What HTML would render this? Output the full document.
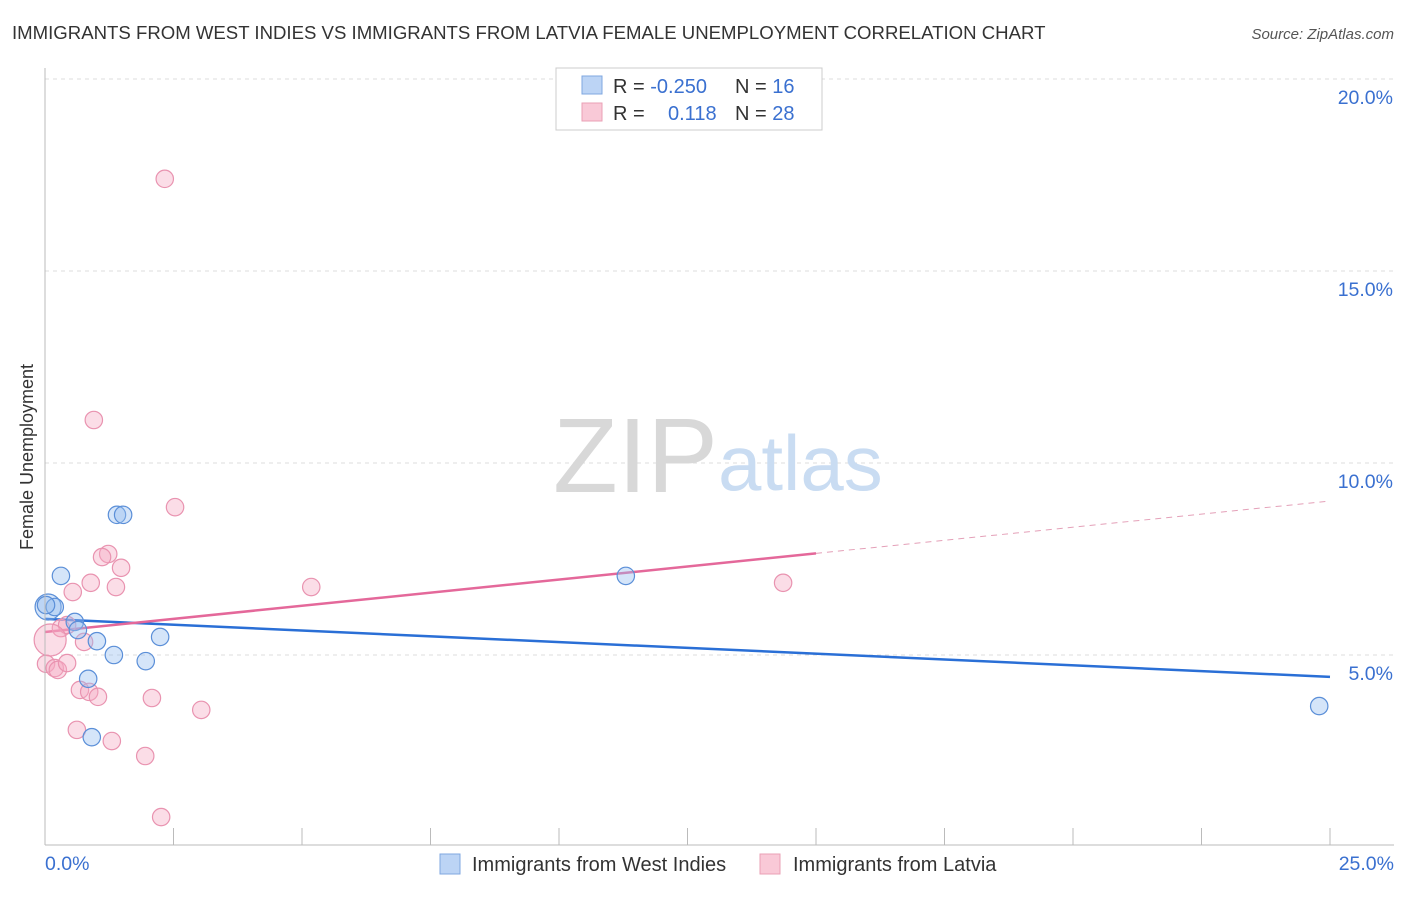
<!DOCTYPE html>
<html><head><meta charset="utf-8"><style>
body{margin:0;background:#fff;font-family:"Liberation Sans",sans-serif;}
svg text{font-family:"Liberation Sans",sans-serif;}
</style></head><body>
<svg width="1406" height="892">
<text x="12" y="39" font-size="18.6" fill="#333">IMMIGRANTS FROM WEST INDIES VS IMMIGRANTS FROM LATVIA FEMALE UNEMPLOYMENT CORRELATION CHART</text>
<text x="1394" y="39" font-size="15" fill="#555" font-style="italic" text-anchor="end">Source: ZipAtlas.com</text>
<text x="33" y="457" font-size="18" fill="#333" text-anchor="middle" transform="rotate(-90 33 457)">Female Unemployment</text>
<g id="grid"></g>
<text x="553" y="492" font-size="106" fill="#d8d8d8" font-family="Liberation Serif">ZIP</text>
<text x="718" y="490" font-size="78" fill="#c9dcf2">atlas</text>
<g id="lines"></g>
<g id="points"></g>
<line x1="45" y1="68" x2="45" y2="845" stroke="#bbb"/>
<line x1="45" y1="845" x2="1394" y2="845" stroke="#bbb"/>
<text x="45" y="870" font-size="19.5" fill="#3a70d0">0.0%</text>
<text x="1394" y="870" font-size="19.5" fill="#3a70d0" text-anchor="end">25.0%</text>
<g>
<rect x="556" y="68" width="266" height="62" fill="#fff" stroke="#ccc"/>
<rect x="582" y="76" width="20" height="18" fill="#bcd4f5" stroke="#7fa7e0"/>
<rect x="582" y="103" width="20" height="18" fill="#f9c9d7" stroke="#eaa0b6"/>
<text x="613" y="93" font-size="20" fill="#333">R = <tspan fill="#3a70d0">-0.250</tspan></text>
<text x="735" y="93" font-size="20" fill="#333">N = <tspan fill="#3a70d0">16</tspan></text>
<text x="613" y="120" font-size="20" fill="#333">R = <tspan fill="#3a70d0" x="668">0.118</tspan></text>
<text x="735" y="120" font-size="20" fill="#333">N = <tspan fill="#3a70d0">28</tspan></text>
</g>
<g><rect x="440" y="854" width="20" height="20" fill="#bcd4f5" stroke="#7fa7e0"/><text x="472" y="871" font-size="20" fill="#333">Immigrants from West Indies</text></g>
<g><rect x="760" y="854" width="20" height="20" fill="#f9c9d7" stroke="#eaa0b6"/><text x="793" y="871" font-size="20" fill="#333">Immigrants from Latvia</text></g>
</svg>
<script>
const yTicks=[5,10,15,20];
const xTicks=[0,2.5,5,7.5,10,12.5,15,17.5,20,22.5,25];
const blueX=[1.40,1.52,0.31,0.06,0.19,0.58,0.64,1.01,1.34,1.96,2.24,0.84,0.91,11.30,24.79,0.02];
const blueY=[8.65,8.65,7.06,6.25,6.25,5.86,5.65,5.36,5.00,4.84,5.47,4.38,2.86,7.06,3.67,6.30];
const pinkX=[2.33,0.95,2.53,1.23,1.11,1.48,0.54,0.89,1.38,5.18,14.36,0.31,0.43,0.76,0.10,0.02,0.19,0.25,0.43,0.68,0.86,1.03,2.08,3.04,0.62,1.30,1.95,2.26];
const pinkY=[17.40,11.12,8.85,7.63,7.55,7.27,6.64,6.88,6.77,6.77,6.88,5.70,5.78,5.34,5.39,4.77,4.66,4.61,4.79,4.09,4.04,3.91,3.88,3.57,3.05,2.76,2.37,0.78];
const blueTrend=[5.94,4.43];
const pinkTrend=[5.60,9.01];
const pinkSolidEnd=15;
const NS="http://www.w3.org/2000/svg";
const sx=v=>45+v/25*1285, sy=v=>847-v*38.4;
function mk(t,a,p){const e=document.createElementNS(NS,t);for(const k in a)e.setAttribute(k,a[k]);p.appendChild(e);return e;}
const grid=document.getElementById('grid');
yTicks.forEach(t=>{
 const l=mk('line',{x1:45,x2:1394,y1:sy(t),y2:sy(t),stroke:'#ddd','stroke-dasharray':'4,4'},grid);
 
 
 const tx=mk('text',{x:1393,y:sy(t)+25,'font-size':19.5,fill:'#3a70d0','text-anchor':'end'},grid);
 tx.textContent=t.toFixed(1)+'%';
 
 
});
xTicks.forEach(t=>{
 const l=mk('line',{x1:sx(t),x2:sx(t),y1:828,y2:845,stroke:'#bbb'},grid);
 
 
});
const lines=document.getElementById('lines');
const pts=document.getElementById('points');
function dot(x,y,f,s,r){const c=mk('circle',{cx:sx(x),cy:sy(y),r:r,fill:f,stroke:s,'stroke-width':1.2},pts);return c;}
pinkX.forEach((x,i)=>{const c=dot(x,pinkY[i],'rgba(246,170,195,0.4)','#e993b0',i===14?16:8.7);
 
 });
blueX.forEach((x,i)=>{const c=dot(x,blueY[i],'rgba(150,190,240,0.4)','#5b8fd8',i===3?13:8.7);
 
 });
const pAt=x=>pinkTrend[0]+(pinkTrend[1]-pinkTrend[0])*x/25;
let l=mk('line',{x1:sx(0),y1:sy(blueTrend[0]),x2:sx(25),y2:sy(blueTrend[1]),stroke:'#2a6fd6','stroke-width':2.5},lines);


l=mk('line',{x1:sx(0),y1:sy(pAt(0)),x2:sx(pinkSolidEnd),y2:sy(pAt(pinkSolidEnd)),stroke:'#e4689a','stroke-width':2.5},lines);


l=mk('line',{x1:sx(pinkSolidEnd),y1:sy(pAt(pinkSolidEnd)),x2:sx(25),y2:sy(pAt(25)),stroke:'#e4a0b8','stroke-width':1,'stroke-dasharray':'6,5'},lines);


</script>
</body></html>
